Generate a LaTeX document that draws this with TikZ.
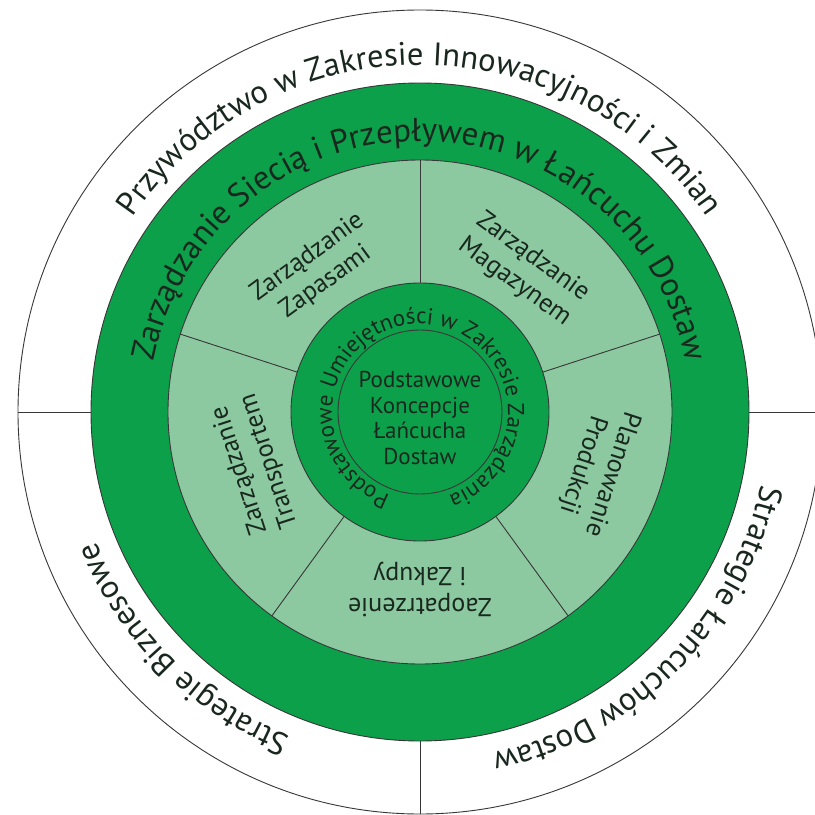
\documentclass[tikz,border=0pt]{standalone}
\usepackage{fontspec}
\setmainfont{PT Sans}
\usetikzlibrary{decorations.text}
\definecolor{dkgreen}{RGB}{13,160,75}
\definecolor{ltgreen}{RGB}{140,201,160}
\definecolor{txt}{RGB}{25,40,30}
\definecolor{linegray}{RGB}{55,55,55}
\tikzset{
  ringline/.style={draw=linegray, line width=0.9},
  segtext/.style={align=center, text=txt, font=\fontsize{26}{31}\selectfont, inner sep=0},
  centertext/.style={align=center, text=txt, font=\fontsize{23}{25.5}\selectfont, inner sep=0},
  arctext/.style={decorate, decoration={text along path, text align=center, text color=txt, text={#1}}}
}
\begin{document}
\begin{tikzpicture}[x=1pt,y=1pt]
\useasboundingbox (-420,-403) rectangle (395,412);
\clip (-420,-403) rectangle (395,412);
\fill[white] (-420,-403) rectangle (395,412);
% outer ring
\draw[ringline] (0,0) circle[radius=402];
\coordinate (lo) at (180:402); \coordinate (li) at (180:329);
\coordinate (ro) at (0:402); \coordinate (ri) at (0:329);
\coordinate (bo) at (270:402); \coordinate (bi) at (270:329);
\draw[ringline] (lo) -- (li);
\draw[ringline] (ro) -- (ri);
\draw[ringline] (bo) -- (bi);
% dark ring
\fill[dkgreen] (0,0) circle[radius=329];
\draw[ringline] (0,0) circle[radius=329];
% light ring
\fill[ltgreen] (0,0) circle[radius=252];
\draw[ringline] (0,0) circle[radius=252];
\foreach \a in {90,162,234,306,18} {
  \draw[ringline] (\a:129) -- (\a:252);
}
% inner dark ring
\fill[dkgreen] (0,0) circle[radius=129];
\draw[ringline] (0,0) circle[radius=129];
\draw[ringline] (0,0) circle[radius=82];

% outer texts
\path[arctext={|\fontsize{32.5}{38}\selectfont|Przywództwo w Zakresie Innowacyjności i Zmian}]
  (175:347) arc[start angle=175, end angle=5, radius=347];
\path[arctext={|\fontsize{32.5}{38}\selectfont|Strategie Biznesowe}]
  (310:349) arc[start angle=310, end angle=140, radius=349];
\path[arctext={|\fontsize{32.5}{38}\selectfont|Strategie Łańcuchów Dostaw}]
  (40:349) arc[start angle=40, end angle=-130, radius=349];
% dark ring text
\path[arctext={|\fontsize{33}{38}\selectfont|Zarządzanie Siecią i Przepływem w Łańcuchu Dostaw}]
  (185:271) arc[start angle=185, end angle=-5, radius=271];
% inner ring text
\path[arctext={|\fontsize{23}{27}\selectfont|Podstawowe Umiejętności w Zakresie Zarządzania}]
  (250:88) arc[start angle=250, end angle=-71, radius=88];

% segment texts
\node[segtext, rotate=36] (zap) at (126:176) {Zarządzanie\\Zapasami};
\node[segtext, rotate=-36] (mag) at (54:176) {Zarządzanie\\Magazynem};
\node[segtext, rotate=-108] (prod) at (-18:186) {Planowanie\\Produkcji};
\node[segtext, rotate=180] (zak) at (270:178) {Zaopatrzenie\\i Zakupy};
\node[segtext, rotate=108] (trans) at (198:174) {Zarządzanie\\Transportem};
% center
\node[centertext] (core) at (0,-6) {Podstawowe\\Koncepcje\\Łańcucha\\Dostaw};
\end{tikzpicture}
\end{document}
